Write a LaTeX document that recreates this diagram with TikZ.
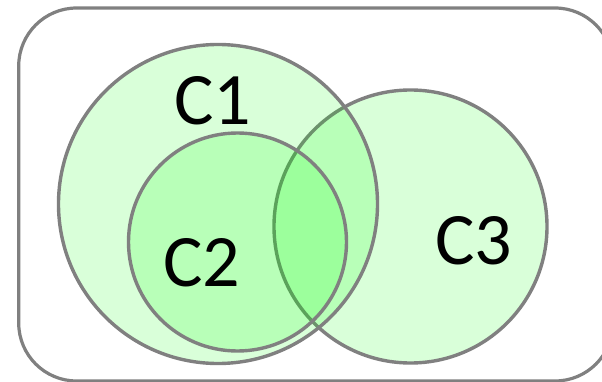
\documentclass[tikz,border=0pt]{standalone}
\usepackage{fontspec}
\setmainfont{Carlito}
\definecolor{rim}{RGB}{128,128,128}
\definecolor{leaf}{RGB}{0,255,0}
\usetikzlibrary{positioning}

\begin{document}
\begin{tikzpicture}[x=1pt,y=-1pt,
    set/.style={draw=rim, line width=3.4pt, fill=leaf, fill opacity=0.15},
    tag/.style={font=\fontsize{74}{80}\selectfont, text=black, inner sep=0pt}]
        \clip (0,0) rectangle (602,382);
        \fill[white] (0,0) rectangle (602,382);
        % universe
        \draw[rim, line width=3.2pt, rounded corners=58pt] (18.7,8) rectangle (613,381);
        % sets, C3 first so the others lie over its rim
        \foreach \cx/\cy/\r in {410.5/226.5/136.5, 218/204/159.5, 237.5/242/109}
          \filldraw[set] (\cx,\cy) circle (\r pt);
        \node[tag] (c1) at (213,101) {C1};
        \node[tag] (c2) at (202,263) {C2};
        \node[tag] (c3) at (474,241) {C3};
      \end{tikzpicture}
\end{document}
